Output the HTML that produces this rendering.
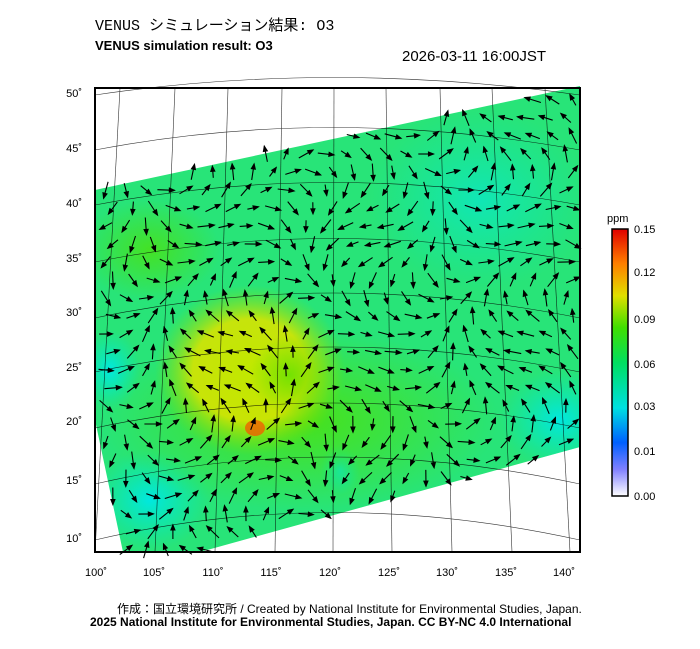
<!DOCTYPE html>
<html><head><meta charset="utf-8"><style>
body{margin:0;background:#fff;width:700px;height:649px;overflow:hidden;font-family:"Liberation Sans","Noto Sans CJK JP",sans-serif}
.t{position:absolute;white-space:nowrap}
</style></head><body>
<div class="t" style="left:95px;top:14px;font-family:'Liberation Mono','Noto Sans CJK JP',monospace;font-size:15px">VENUS シミュレーション結果: O3</div>
<div class="t" style="left:95px;top:38px;font-size:13px;font-weight:bold">VENUS simulation result: O3</div>
<div class="t" style="left:402px;top:48px;font-size:15px">2026-03-11 16:00JST</div>
<svg width="700" height="649" style="position:absolute;left:0;top:0" id="s">
<defs>
<radialGradient id="y1" cx="0.5" cy="0.5" r="0.5"><stop offset="0" stop-color="#c0e800"/><stop offset="0.6" stop-color="#d8e400" stop-opacity="0.9"/><stop offset="1" stop-color="#80e000" stop-opacity="0"/></radialGradient>
<radialGradient id="c1" cx="0.5" cy="0.5" r="0.5"><stop offset="0" stop-color="#00e8e0"/><stop offset="1" stop-color="#00e8c0" stop-opacity="0"/></radialGradient>
<radialGradient id="g1" cx="0.5" cy="0.5" r="0.5"><stop offset="0" stop-color="#50e000"/><stop offset="1" stop-color="#50e000" stop-opacity="0"/></radialGradient>
<linearGradient id="cb" x1="0" y1="1" x2="0" y2="0"><stop offset="0" stop-color="#fff"/><stop offset="0.1" stop-color="#8080ff"/><stop offset="0.2" stop-color="#0060ff"/><stop offset="0.33" stop-color="#00e0e0"/><stop offset="0.5" stop-color="#00e060"/><stop offset="0.63" stop-color="#40e000"/><stop offset="0.75" stop-color="#e0e000"/><stop offset="0.87" stop-color="#ff8000"/><stop offset="1" stop-color="#e00000"/></linearGradient>
<clipPath id="dp"><polygon points="95,190 580,86 580,447 200,552 123,552 95,420"/></clipPath>
</defs>
<g clip-path="url(#dp)">
<rect x="90" y="80" width="495" height="480" fill="#28e478"/>
<ellipse cx="480" cy="200" rx="110" ry="90" fill="url(#c1)" opacity="0.6"/>
<ellipse cx="560" cy="420" rx="60" ry="50" fill="url(#c1)"/>
<ellipse cx="150" cy="500" rx="60" ry="50" fill="url(#c1)"/>
<ellipse cx="110" cy="370" rx="30" ry="40" fill="url(#c1)"/>
<ellipse cx="340" cy="470" rx="20" ry="25" fill="url(#c1)"/>
<ellipse cx="300" cy="420" rx="200" ry="90" fill="url(#g1)" opacity="0.8"/>
<ellipse cx="150" cy="250" rx="70" ry="50" fill="url(#g1)" opacity="0.7"/>
<ellipse cx="250" cy="370" rx="95" ry="85" fill="url(#y1)"/>
<ellipse cx="290" cy="375" rx="40" ry="40" fill="url(#g1)" opacity="0.7"/>
<ellipse cx="255" cy="428" rx="10" ry="8" fill="#f06000" opacity="0.8"/>
</g>
<g fill="none" stroke="#000" stroke-width="0.6" opacity="0.8" id="grid">
<path d="M95,95 Q330,60 580,95"/><path d="M95,150 Q330,105 580,150"/><path d="M95,205 Q330,160 580,205"/><path d="M95,262 Q330,215 580,262"/><path d="M95,318 Q330,268 580,318"/><path d="M95,372 Q330,322 580,372"/><path d="M95,428 Q330,378 580,428"/><path d="M95,484 Q330,430 580,484"/><path d="M95,540 Q330,485 580,540"/>
<line x1="120" y1="88" x2="95" y2="552"/><line x1="175" y1="88" x2="155" y2="552"/><line x1="228" y1="88" x2="215" y2="552"/><line x1="282" y1="88" x2="275" y2="552"/><line x1="334" y1="88" x2="333" y2="552"/><line x1="386" y1="88" x2="392" y2="552"/><line x1="440" y1="88" x2="452" y2="552"/><line x1="492" y1="88" x2="512" y2="552"/><line x1="545" y1="88" x2="570" y2="552"/>
</g>
<g id="arr" stroke="#000" stroke-width="1.1" fill="#000"></g>
<rect x="95" y="88" width="485" height="464" fill="none" stroke="#000" stroke-width="2"/>
<rect x="612" y="229" width="16" height="267" fill="url(#cb)" stroke="#000" stroke-width="1.5"/>
<g font-size="11" fill="#000">
<text x="607" y="222">ppm</text>
<text x="634" y="233">0.15</text><text x="634" y="276">0.12</text><text x="634" y="323">0.09</text><text x="634" y="368">0.06</text><text x="634" y="410">0.03</text><text x="634" y="455">0.01</text><text x="634" y="500">0.00</text>
<g text-anchor="end">
<text x="82" y="97">50˚</text><text x="82" y="152">45˚</text><text x="82" y="207">40˚</text><text x="82" y="262">35˚</text><text x="82" y="316">30˚</text><text x="82" y="371">25˚</text><text x="82" y="425">20˚</text><text x="82" y="484">15˚</text><text x="82" y="542">10˚</text></g>
<g text-anchor="middle">
<text x="96" y="576">100˚</text><text x="154" y="576">105˚</text><text x="213" y="576">110˚</text><text x="271" y="576">115˚</text><text x="330" y="576">120˚</text><text x="389" y="576">125˚</text><text x="447" y="576">130˚</text><text x="506" y="576">135˚</text><text x="564" y="576">140˚</text></g>
</g>
</svg>
<div class="t" style="left:117px;top:600px;font-size:12px">作成：国立環境研究所 / Created by National Institute for Environmental Studies, Japan.</div>
<div class="t" style="left:90px;top:615px;font-size:12px;font-weight:bold">2025 National Institute for Environmental Studies, Japan. CC BY-NC 4.0 International</div>
<script>
var g=document.getElementById('arr'),s='';
function inside(x,y){var p=[[95,190],[580,86],[580,447],[200,552],[123,552],[95,420]],c=false;for(var i=0,j=p.length-1;i<p.length;j=i++){if(((p[i][1]>y)!=(p[j][1]>y))&&(x<(p[j][0]-p[i][0])*(y-p[i][1])/(p[j][1]-p[i][1])+p[i][0]))c=!c;}return c;}
for(var y=100;y<552;y+=18){for(var x=102;x<580;x+=20){var xx=x+((y/18)%2)*7;if(!inside(xx,y))continue;
var a=Math.sin(xx*0.021)*1.6+Math.cos(y*0.027)*1.4+ (y>380?-0.5:0);var L=11+6*Math.abs(Math.sin(xx*0.05+y*0.03));
var dx=Math.cos(a)*L,dy=Math.sin(a)*L;var x1=xx-dx/2,y1=y-dy/2,x2=xx+dx/2,y2=y+dy/2;
var ux=dx/L,uy=dy/L;
s+='<line x1="'+x1.toFixed(1)+'" y1="'+y1.toFixed(1)+'" x2="'+x2.toFixed(1)+'" y2="'+y2.toFixed(1)+'"/>';
s+='<polygon points="'+x2.toFixed(1)+','+y2.toFixed(1)+' '+(x2-ux*5-uy*2).toFixed(1)+','+(y2-uy*5+ux*2).toFixed(1)+' '+(x2-ux*5+uy*2).toFixed(1)+','+(y2-uy*5-ux*2).toFixed(1)+'"/>';}}
g.innerHTML=s;
</script>
</body></html>
